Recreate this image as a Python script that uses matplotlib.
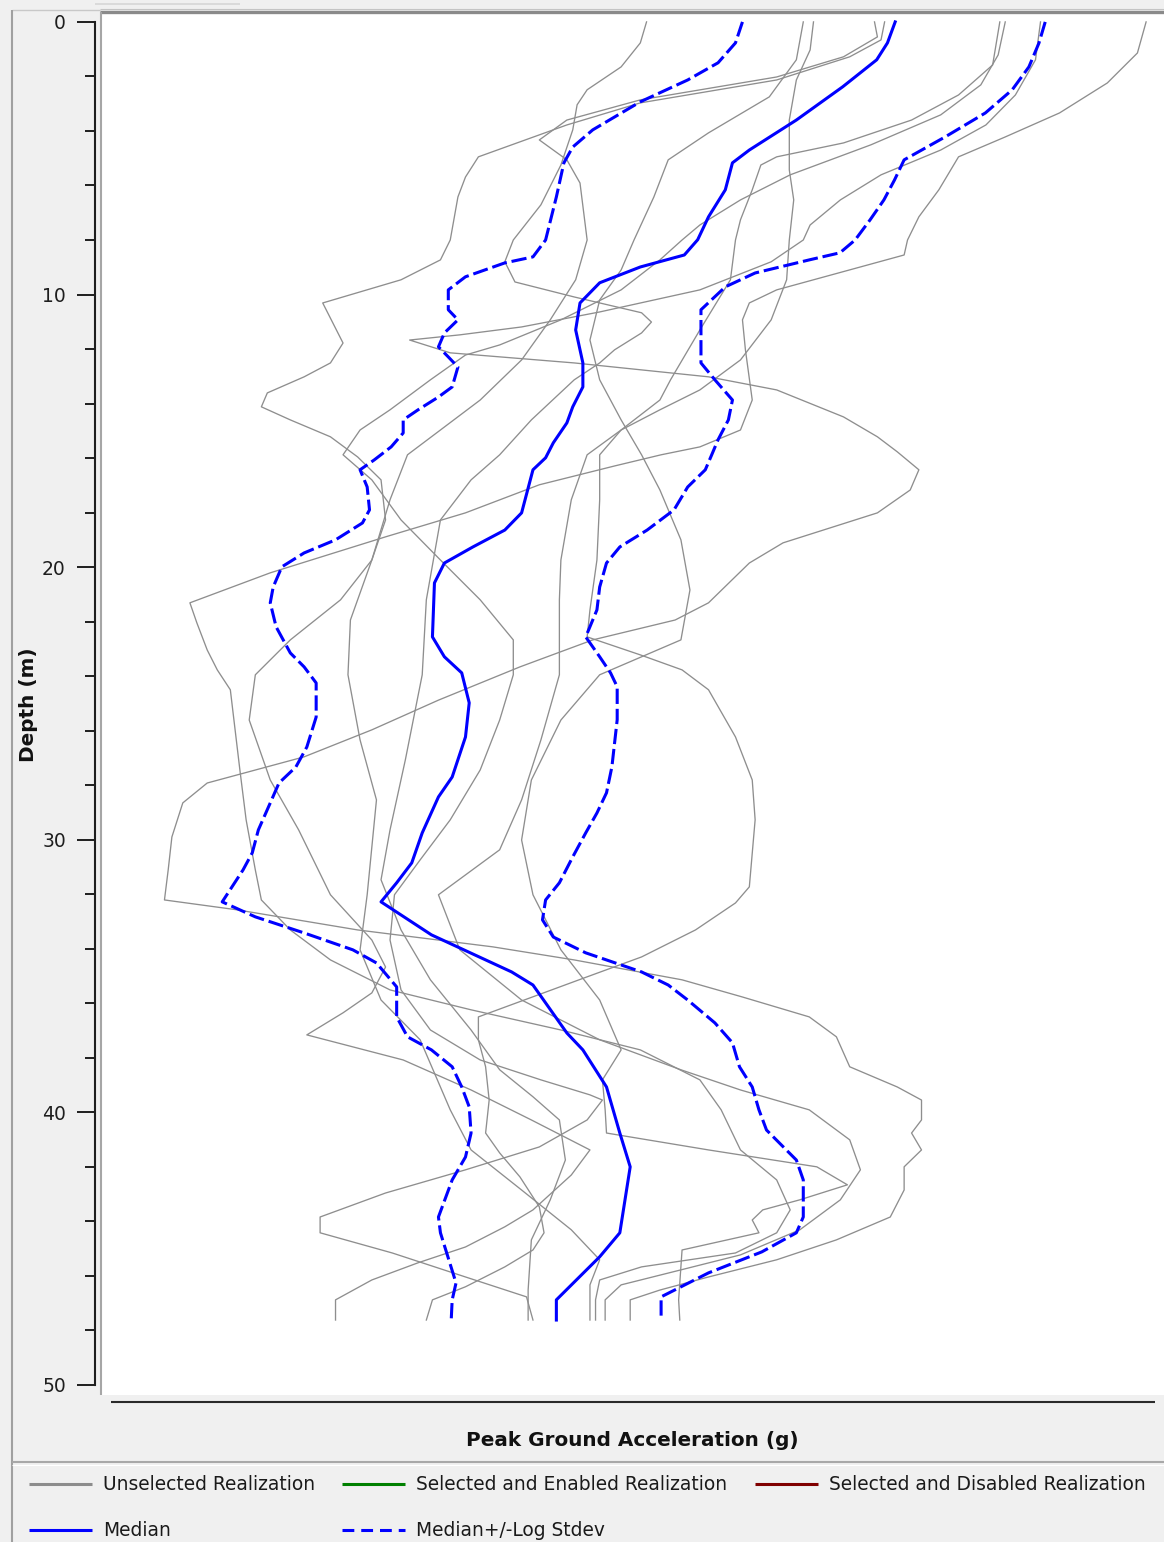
import matplotlib
matplotlib.use("Agg")
import matplotlib.pyplot as plt
from matplotlib.lines import Line2D
from matplotlib.ticker import MultipleLocator, NullLocator

plt.rcParams["font.family"] = ["DejaVu Sans"]
plt.rcParams["lines.scale_dashes"] = False

# ---------------------------------------------------------------------------
# Peak ground acceleration profiles (g) against depth (m)
# ---------------------------------------------------------------------------
median_depth = [0, 0.77, 1.39, 2.38, 3.60, 4.70, 5.17, 6.16, 7.15, 7.99, 8.55, 8.99, 9.57,
                10.31, 11.30, 12.51, 13.39, 14.12, 14.71, 15.44, 15.99, 16.43, 18.01, 18.64,
                19.26, 19.85, 20.58, 22.56, 23.29, 23.88, 24.98, 26.23, 27.70, 28.43, 29.75,
                30.85, 31.58, 32.28, 33.49, 34.85, 35.33, 37.09, 37.71, 39.07, 40.76, 42.00,
                44.42, 45.30, 46.88, 47.62]
median_pga = [0.624, 0.613, 0.598, 0.553, 0.497, 0.446, 0.429, 0.422, 0.406, 0.396, 0.384,
              0.347, 0.316, 0.302, 0.299, 0.304, 0.304, 0.297, 0.293, 0.284, 0.279, 0.271,
              0.264, 0.254, 0.236, 0.221, 0.216, 0.215, 0.221, 0.230, 0.234, 0.232, 0.225,
              0.218, 0.210, 0.205, 0.198, 0.191, 0.2145, 0.258, 0.271, 0.293, 0.304, 0.321,
              0.331, 0.339, 0.331, 0.316, 0.286, 0.286]

lower_depth = [0, 0.77, 1.50, 2.13, 2.93, 3.96, 4.59, 5.17, 6.42, 8.00, 8.62, 8.84, 9.35,
               9.83, 10.56, 10.93, 11.41, 11.92, 12.29, 12.66, 13.39, 13.76, 14.23, 14.60,
               15.08, 15.59, 16.07, 16.43, 17.06, 17.90, 18.38, 19.00, 19.48, 19.99, 20.73,
               21.31, 22.19, 23.15, 23.66, 24.25, 25.50, 26.60, 27.33, 27.92, 28.65, 29.64,
               30.48, 31.11, 32.28, 32.83, 33.42, 34.04, 34.52, 35.40, 36.50, 37.23, 37.71,
               38.33, 39.07, 39.80, 40.76, 41.64, 42.48, 43.84, 44.42, 46.26, 46.88, 47.62]
lower_pga = [0.439, 0.432, 0.415, 0.387, 0.347, 0.311, 0.297, 0.291, 0.286, 0.279, 0.271,
             0.254, 0.232, 0.223, 0.223, 0.228, 0.221, 0.218, 0.223, 0.228, 0.225, 0.218,
             0.208, 0.201, 0.201, 0.1955, 0.188, 0.182, 0.185, 0.186, 0.183, 0.172, 0.160,
             0.152, 0.149, 0.148, 0.150, 0.155, 0.160, 0.1645, 0.1645, 0.161, 0.157, 0.151,
             0.148, 0.144, 0.142, 0.139, 0.1325, 0.143, 0.160, 0.179, 0.189, 0.198, 0.198,
             0.203, 0.2145, 0.225, 0.230, 0.234, 0.235, 0.232, 0.225, 0.218, 0.219, 0.227,
             0.225, 0.2245]

upper_depth = [0, 0.77, 1.65, 2.49, 3.34, 4.22, 5.06, 5.80, 6.53, 7.26, 8.00, 8.47, 8.73,
               9.21, 9.72, 10.56, 11.67, 12.51, 13.13, 13.87, 14.60, 15.33, 15.88, 16.43,
               17.06, 17.90, 18.64, 19.26, 19.85, 20.73, 21.57, 22.56, 23.29, 23.88, 24.39,
               25.60, 27.33, 28.28, 29.02, 29.75, 30.63, 31.58, 32.21, 32.94, 33.57, 34.15,
               34.85, 35.33, 35.88, 36.72, 37.45, 38.33, 39.07, 39.91, 40.65, 41.75, 42.48,
               43.84, 44.42, 45.12, 45.89, 46.77, 47.62]
upper_pga = [0.8815, 0.869, 0.849, 0.817, 0.768, 0.700, 0.637, 0.623, 0.608, 0.589, 0.569,
             0.5495, 0.512, 0.452, 0.422, 0.399, 0.399, 0.399, 0.412, 0.429, 0.425, 0.415,
             0.409, 0.403, 0.387, 0.375, 0.3525, 0.331, 0.321, 0.316, 0.314, 0.306, 0.316,
             0.324, 0.329, 0.329, 0.325, 0.321, 0.314, 0.306, 0.297, 0.288, 0.279, 0.277,
             0.284, 0.306, 0.348, 0.370, 0.387, 0.412, 0.429, 0.436, 0.449, 0.456, 0.464,
             0.497, 0.505, 0.505, 0.497, 0.459, 0.406, 0.364, 0.364]

# Individual realizations: (depth, pga) pairs
real_1_depth = [0, 0.77, 1.65, 2.49, 3.04, 3.96, 5.25, 6.71, 8.00, 8.80, 9.54, 10.09, 10.67,
                11.01, 11.41, 12.03, 12.51, 13.13, 14.60, 15.88, 16.80, 18.27, 21.20, 23.95,
                27.07, 29.64, 31.47, 33.31, 35.14, 36.98, 38.44, 39.43, 40.28, 41.75, 43.21,
                44.68, 46.52, 47.62]
real_1_pga = [0.352, 0.347, 0.332, 0.307, 0.300, 0.297, 0.289, 0.276, 0.259, 0.254, 0.260,
              0.298, 0.348, 0.356, 0.348, 0.327, 0.316, 0.298, 0.270, 0.251, 0.235, 0.219,
              0.212, 0.210, 0.202, 0.195, 0.191, 0.200, 0.214, 0.235, 0.251, 0.271, 0.288,
              0.292, 0.282, 0.270, 0.268, 0.268]

real_2_depth = [0, 1.39, 2.68, 3.78, 4.70, 5.61, 6.53, 7.45, 8.00, 8.80, 9.83, 10.64, 11.19,
                11.48, 11.67, 12.14, 12.51, 13.02, 13.50, 14.49, 15.22, 15.77, 16.43, 17.17,
                18.01, 19.11, 19.85, 21.31, 21.94, 22.67, 23.66, 24.88, 25.97, 26.96, 27.92,
                28.65, 29.90, 31.11, 32.21, 32.57, 33.31, 33.93, 34.41, 35.14, 35.77, 36.50,
                37.23, 38.33, 39.07, 39.55, 40.28, 40.76, 41.38, 42.00, 42.85, 43.84, 44.68,
                45.41, 46.04, 46.52, 46.88, 47.62]
real_2_pga = [0.872, 0.862, 0.823, 0.769, 0.693, 0.604, 0.550, 0.513, 0.505, 0.469, 0.398,
              0.316, 0.264, 0.229, 0.204, 0.224, 0.298, 0.406, 0.475, 0.554, 0.599, 0.627,
              0.659, 0.646, 0.599, 0.482, 0.446, 0.406, 0.376, 0.311, 0.263, 0.218, 0.187,
              0.160, 0.128, 0.121, 0.118, 0.117, 0.116, 0.137, 0.181, 0.247, 0.298, 0.382,
              0.439, 0.512, 0.545, 0.562, 0.627, 0.663, 0.663, 0.648, 0.663, 0.637, 0.637,
              0.617, 0.545, 0.475, 0.406, 0.363, 0.339, 0.339]

real_3_depth = [0, 1.14, 2.24, 3.34, 4.22, 4.95, 6.16, 7.15, 8.00, 8.55, 9.83, 10.31, 10.93,
                12.03, 13.87, 14.97, 15.59, 15.88, 16.29, 16.98, 18.01, 18.89, 20.21, 21.31,
                22.05, 23.04, 23.77, 24.50, 27.44, 29.27, 31.11, 32.21, 33.31, 34.41, 35.51,
                36.24, 36.98, 37.71, 38.81, 39.91, 41.38, 42.48, 43.58, 44.42, 45.16, 45.67,
                46.15, 46.88, 47.62]
real_3_pga = [1.112, 1.090, 1.017, 0.911, 0.804, 0.722, 0.690, 0.659, 0.642, 0.637, 0.475,
              0.446, 0.439, 0.442, 0.449, 0.437, 0.398, 0.364, 0.327, 0.275, 0.232, 0.193,
              0.148, 0.123, 0.125, 0.128, 0.131, 0.135, 0.138, 0.140, 0.143, 0.145, 0.155,
              0.170, 0.195, 0.235, 0.289, 0.347, 0.398, 0.418, 0.437, 0.475, 0.490, 0.475,
              0.432, 0.348, 0.316, 0.313, 0.313]

real_4_depth = [0, 1.03, 2.13, 3.60, 5.43, 6.53, 8.00, 9.46, 10.93, 12.40, 13.50, 14.23,
                14.97, 15.88, 17.53, 19.74, 21.57, 22.56, 23.22, 23.77, 24.50, 26.23, 27.81,
                29.27, 31.73, 32.32, 33.31, 34.30, 35.03, 36.50, 37.34, 38.33, 39.55, 40.76,
                41.49, 42.37, 43.47, 44.42, 45.05, 45.67, 46.40, 46.88, 47.62]
real_4_pga = [0.517, 0.513, 0.497, 0.489, 0.489, 0.494, 0.489, 0.486, 0.469, 0.437, 0.398,
              0.363, 0.332, 0.316, 0.316, 0.314, 0.309, 0.307, 0.347, 0.382, 0.406, 0.432,
              0.449, 0.452, 0.446, 0.432, 0.394, 0.348, 0.307, 0.239, 0.239, 0.243, 0.245,
              0.243, 0.251, 0.263, 0.275, 0.278, 0.271, 0.254, 0.232, 0.215, 0.212]

real_5_depth = [0, 1.21, 2.31, 3.41, 4.51, 5.61, 6.53, 7.45, 8.00, 8.73, 9.83, 10.93, 11.85,
                12.22, 13.13, 14.23, 14.97, 15.88, 16.80, 18.27, 19.74, 21.20, 22.67, 23.95,
                25.61, 27.44, 29.27, 30.74, 32.02, 33.68, 35.51, 36.98, 38.08, 38.81, 39.36,
                39.55, 40.28, 41.27, 42.11, 42.96, 43.84, 44.42, 45.16, 46.04, 46.77, 47.62]
real_5_pga = [0.804, 0.791, 0.760, 0.693, 0.590, 0.490, 0.437, 0.398, 0.382, 0.363, 0.332,
              0.289, 0.251, 0.232, 0.214, 0.195, 0.182, 0.175, 0.187, 0.200, 0.219, 0.240,
              0.259, 0.259, 0.251, 0.240, 0.224, 0.209, 0.197, 0.195, 0.200, 0.214, 0.240,
              0.276, 0.309, 0.318, 0.307, 0.275, 0.232, 0.193, 0.166, 0.166, 0.196, 0.232,
              0.267, 0.271]

real_6_depth = [0, 0.66, 1.28, 2.13, 2.97, 3.78, 4.95, 5.69, 6.42, 8.00, 8.73, 9.46, 10.31,
                11.78, 12.51, 13.02, 13.61, 14.12, 14.60, 15.22, 15.96, 16.80, 18.27, 19.74,
                21.20, 22.67, 23.95, 25.61, 27.81, 29.64, 32.02, 33.68, 34.67, 35.62, 36.35,
                37.16, 38.08, 39.18, 40.28, 41.38, 42.30, 43.58, 44.20, 44.94, 45.52, 46.15,
                46.88, 47.62]
real_6_pga = [0.609, 0.604, 0.562, 0.475, 0.347, 0.293, 0.239, 0.232, 0.228, 0.224, 0.219,
              0.200, 0.167, 0.175, 0.170, 0.160, 0.147, 0.145, 0.155, 0.170, 0.181, 0.191,
              0.193, 0.187, 0.174, 0.155, 0.143, 0.141, 0.148, 0.158, 0.170, 0.187, 0.193,
              0.187, 0.175, 0.161, 0.201, 0.235, 0.270, 0.309, 0.296, 0.271, 0.254, 0.232,
              0.208, 0.187, 0.172, 0.172]

real_7_depth = [0, 1.39, 2.75, 4.07, 5.06, 6.42, 8.00, 9.10, 10.20, 11.67, 13.13, 14.60,
                15.88, 17.17, 19.00, 20.84, 22.67, 23.95, 25.61, 27.81, 30.01, 32.02, 34.04,
                35.88, 37.71, 38.81, 39.91, 40.76, 41.38, 42.00, 42.66, 43.21, 43.58, 43.95,
                44.42, 45.05, 46.88, 47.62]
real_7_pga = [0.505, 0.497, 0.467, 0.406, 0.370, 0.358, 0.342, 0.332, 0.316, 0.309, 0.316,
              0.332, 0.348, 0.363, 0.381, 0.389, 0.381, 0.316, 0.289, 0.270, 0.264, 0.271,
              0.289, 0.316, 0.332, 0.318, 0.320, 0.321, 0.406, 0.521, 0.559, 0.501, 0.460,
              0.449, 0.456, 0.382, 0.379, 0.380]

real_8_depth = [0, 0.55, 1.28, 2.02, 2.86, 3.60, 4.33, 5.06, 5.91, 8.00, 9.46, 10.93, 12.40,
                13.87, 14.97, 15.88, 17.53, 19.74, 21.94, 23.95, 26.34, 28.54, 32.02, 34.04,
                35.88, 37.34, 39.91, 41.38, 42.85, 44.31, 45.41, 46.33, 47.62]
real_8_pga = [0.595, 0.599, 0.554, 0.475, 0.347, 0.293, 0.275, 0.293, 0.302, 0.307, 0.299,
              0.282, 0.264, 0.240, 0.219, 0.203, 0.195, 0.187, 0.178, 0.177, 0.182, 0.189,
              0.185, 0.182, 0.191, 0.209, 0.224, 0.235, 0.264, 0.296, 0.316, 0.309, 0.309]

real_9_depth = [0, 1.58, 2.68, 3.60, 4.44, 4.95, 5.25, 6.16, 7.26, 8.00, 9.46, 11.30, 13.13,
                13.87, 14.97, 15.88, 17.53, 19.74, 21.20, 23.95, 26.34, 28.54, 30.37, 32.02,
                34.04, 35.88, 37.34, 38.44, 39.18, 39.91, 41.01, 42.11, 43.21, 44.31, 45.23,
                45.78, 46.33, 46.88, 47.62]
real_9_pga = [0.794, 0.781, 0.722, 0.648, 0.554, 0.475, 0.458, 0.449, 0.437, 0.432, 0.427,
              0.398, 0.372, 0.363, 0.332, 0.307, 0.296, 0.289, 0.288, 0.288, 0.276, 0.264,
              0.251, 0.218, 0.229, 0.264, 0.316, 0.381, 0.437, 0.512, 0.562, 0.576, 0.550,
              0.501, 0.437, 0.381, 0.332, 0.320, 0.320]

realizations = [
    (real_1_depth, real_1_pga), (real_2_depth, real_2_pga), (real_3_depth, real_3_pga),
    (real_4_depth, real_4_pga), (real_5_depth, real_5_pga), (real_6_depth, real_6_pga),
    (real_7_depth, real_7_pga), (real_8_depth, real_8_pga), (real_9_depth, real_9_pga),
]

depth_ticks = [0, 10, 20, 30, 40, 50]

legend_rows = [
    [("Unselected Realization", "#8c8c8c", "-"),
     ("Selected and Enabled Realization", "#008000", "-"),
     ("Selected and Disabled Realization", "#800000", "-")],
    [("Median", "#0000ff", "-"),
     ("Median+/-Log Stdev", "#0000ff", "--")],
]

# ---------------------------------------------------------------------------
W, H = 1164, 1542
fig = plt.figure(figsize=(W / 100, H / 100), dpi=100, facecolor="#f0f0f0")


def fx(px):
    return px / W


def fy(py):
    return 1 - py / H


ax = fig.add_axes([fx(100), fy(1395), (1164 - 100) / W, (1395 - 14) / H])
ax.set_facecolor("white")
ax.set_xscale("log")
ax.set_xlim(0.1, 1.1588)
ax.set_ylim(50.37, -0.29)

for d, g in realizations:
    ax.plot(g, d, color="#8e8e8e", lw=0.95, solid_joinstyle="round", zorder=2)

dash = (0, (11, 3.5))
ax.plot(lower_pga, lower_depth, color="#0000ff", lw=2.2, linestyle=dash, zorder=4)
ax.plot(upper_pga, upper_depth, color="#0000ff", lw=2.2, linestyle=dash, zorder=4)
ax.plot(median_pga, median_depth, color="#0000ff", lw=2.2, zorder=5)

for side in ("top", "right", "bottom"):
    ax.spines[side].set_visible(False)
left = ax.spines["left"]
left.set_position(("outward", 3.6))
left.set_bounds(depth_ticks[0], depth_ticks[-1])
left.set_linewidth(1.5)
left.set_color("#1e1e1e")

ax.set_yticks(depth_ticks)
ax.yaxis.set_minor_locator(MultipleLocator(2))
ax.tick_params(axis="y", which="major", length=13, width=1.4, direction="out",
               pad=8, labelsize=13.5, color="#1e1e1e", labelcolor="#1e1e1e")
ax.tick_params(axis="y", which="minor", length=7, width=1.4, direction="out",
               color="#1e1e1e")
ax.xaxis.set_minor_locator(NullLocator())
ax.tick_params(axis="x", which="both", bottom=False, labelbottom=False)

ax.set_xlabel("Peak Ground Acceleration (g)", fontsize=14.4, fontweight="bold",
              color="#111111")
ax.xaxis.set_label_coords(0.5, (1395 - 1440) / 1381)
ax.xaxis.label.set_va("center")
ax.set_ylabel("Depth (m)", fontsize=14.4, fontweight="bold", color="#111111")
ax.yaxis.set_label_coords((28 - 100) / 1064, 0.5)
ax.yaxis.label.set_va("center")


def frame_line(x0, y0, x1, y1, color, lw):
    fig.add_artist(Line2D([fx(x0), fx(x1)], [fy(y0), fy(y1)], color=color, lw=lw,
                          solid_capstyle="butt"))


# window frame
frame_line(95, 4, 240, 4, "#d6d6d6", 1.2)
frame_line(12, 10, 100, 10, "#c8c8c8", 1.0)
frame_line(100, 9, 1164, 9, "#c4c4c4", 0.8)
frame_line(100, 12, 1164, 12, "#8a8a8a", 2.4)
frame_line(12, 10, 12, 1542, "#a0a0a0", 1.5)
frame_line(101, 12, 101, 1395, "#a6a6a6", 1.5)
# horizontal axis line
frame_line(111, 1402, 1155, 1402, "#2a2a2a", 1.5)
# legend separator
frame_line(12, 1462, 1164, 1462, "#a8a8a8", 1.5)
frame_line(12, 1464.5, 1164, 1464.5, "#ffffff", 0.8)

# legend
col_x = [29, 342, 755]
row_y = [1484, 1530]
for r, row in enumerate(legend_rows):
    for c, (label, color, style) in enumerate(row):
        x0 = col_x[c]
        y0 = row_y[r]
        kw = {}
        if style == "--":
            kw["linestyle"] = (0, (8.5, 5))
        fig.add_artist(Line2D([fx(x0), fx(x0 + 63)], [fy(y0), fy(y0)], color=color,
                              lw=2.2, solid_capstyle="butt", dash_capstyle="butt", **kw))
        fig.text(fx(x0 + 74), fy(y0), label, fontsize=13.4, va="center", ha="left",
                 color="#1a1a1a")

fig.savefig("out.png", dpi=100, facecolor=fig.get_facecolor())
